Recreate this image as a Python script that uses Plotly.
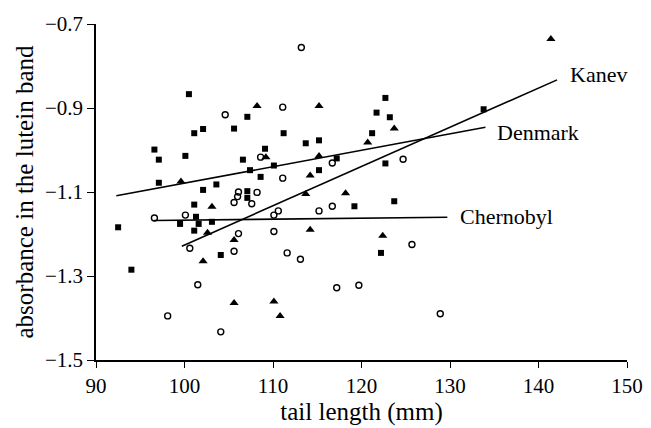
"""
Lutein band absorbance against tail length
Three populations with fitted regression lines
"""

import plotly.graph_objects as go

# Denmark (filled squares)
denmark_x = [100.5, 107.1, 101.1, 102.1, 105.6, 96.6, 97.1, 100.1, 109.1, 106.6,
             110.1, 107.4, 108.6, 97.1, 103.6, 102.1, 107.1, 107.1, 101.1, 101.3,
             99.5, 101.6, 101.1, 103.1, 92.5, 104.1, 94.0, 122.7, 121.7, 123.2,
             111.2, 121.2, 113.7, 115.2, 117.2, 122.7, 115.2, 119.2, 123.7, 122.2,
             133.8]
denmark_y = [-0.867, -0.921, -0.960, -0.950, -0.949, -0.999, -1.023, -1.014, -0.997, -1.023,
             -1.037, -1.048, -1.064, -1.078, -1.082, -1.095, -1.098, -1.114, -1.130, -1.159,
             -1.176, -1.176, -1.192, -1.171, -1.184, -1.250, -1.285, -0.876, -0.911, -0.922,
             -0.960, -0.960, -0.984, -0.977, -1.020, -1.032, -1.048, -1.134, -1.122, -1.245,
             -0.903]

# Chernobyl (open circles)
chernobyl_x = [104.6, 108.6, 106.1, 106.0, 108.2, 105.6, 107.6, 96.6, 100.1, 106.1,
               110.1, 110.6, 110.1, 100.6, 105.6, 101.5, 98.1, 104.1, 113.2, 111.1,
               116.7, 124.7, 111.1, 116.7, 115.2, 125.7, 111.6, 113.1, 117.2, 119.7,
               128.9]
chernobyl_y = [-0.916, -1.017, -1.100, -1.111, -1.101, -1.125, -1.128, -1.162, -1.155, -1.199,
               -1.155, -1.145, -1.194, -1.234, -1.241, -1.321, -1.395, -1.433, -0.756, -0.898,
               -1.031, -1.022, -1.067, -1.134, -1.145, -1.225, -1.245, -1.260, -1.328, -1.322,
               -1.390]

# Kanev (filled triangles)
kanev_x = [108.2, 109.2, 99.6, 103.1, 102.6, 105.6, 102.1, 105.6, 110.1, 115.2,
           123.7, 120.7, 115.2, 114.2, 113.7, 118.2, 114.2, 122.4, 110.8, 141.4]
kanev_y = [-0.895, -1.017, -1.075, -1.135, -1.197, -1.214, -1.265, -1.364, -1.361, -0.895,
           -0.949, -0.982, -1.014, -1.061, -1.105, -1.103, -1.190, -1.204, -1.395, -0.736]

# regression lines (end points)
denmark_fit_x = [92.3, 134.0]
denmark_fit_y = [-1.109, -0.946]
kanev_fit_x = [99.7, 142.1]
kanev_fit_y = [-1.229, -0.833]
chernobyl_fit_x = [96.55, 129.7]
chernobyl_fit_y = [-1.168, -1.160]

# line labels
label_names = ["Kanev", "Denmark", "Chernobyl"]
label_x = [143.3, 135.1, 130.9]
label_y = [-0.820, -0.959, -1.158]

FONT = "Liberation Serif, Times New Roman, serif"

fig = go.Figure()

for fx, fy in [(denmark_fit_x, denmark_fit_y),
               (kanev_fit_x, kanev_fit_y),
               (chernobyl_fit_x, chernobyl_fit_y)]:
    fig.add_trace(go.Scatter(
        x=fx, y=fy, mode='lines',
        line=dict(color='black', width=1.6),
        hoverinfo='skip'
    ))

fig.add_trace(go.Scatter(
    x=denmark_x, y=denmark_y, mode='markers', name='Denmark',
    marker=dict(symbol='square', size=6, color='black')
))
fig.add_trace(go.Scatter(
    x=chernobyl_x, y=chernobyl_y, mode='markers', name='Chernobyl',
    marker=dict(symbol='circle-open', size=6, color='black', line=dict(width=1.4))
))
fig.add_trace(go.Scatter(
    x=kanev_x, y=kanev_y, mode='markers', name='Kanev',
    marker=dict(symbol='triangle-up', size=8, color='black')
))

for name, lx, ly in zip(label_names, label_x, label_y):
    fig.add_annotation(
        x=lx, y=ly, text=name, showarrow=False,
        xanchor='left', yanchor='middle',
        font=dict(family=FONT, size=22, color='black')
    )

# page body has an 8px default margin, so the figure is 8px smaller
fig.update_layout(
    width=643,
    height=420,
    margin=dict(l=88, r=24, t=16, b=68),
    paper_bgcolor='white',
    plot_bgcolor='white',
    showlegend=False,
    font=dict(family=FONT, size=21, color='black'),
    xaxis=dict(
        range=[90, 150], tick0=90, dtick=10,
        showgrid=False, zeroline=False, automargin=False,
        showline=True, linecolor='black', linewidth=1.6,
        ticks='outside', ticklen=6, tickwidth=1.4, tickcolor='black',
        title=dict(text='tail length (mm)', standoff=0)
    ),
    yaxis=dict(
        range=[-1.5, -0.7], tick0=-1.5, dtick=0.2, tickformat='.1f',
        showgrid=False, zeroline=False, automargin=False,
        showline=True, linecolor='black', linewidth=1.6,
        ticks='outside', ticklen=7, tickwidth=1.4, tickcolor='black',
        title=dict(text='absorbance in the lutein band', standoff=4)
    ),
)

fig.write_html("out.html")
